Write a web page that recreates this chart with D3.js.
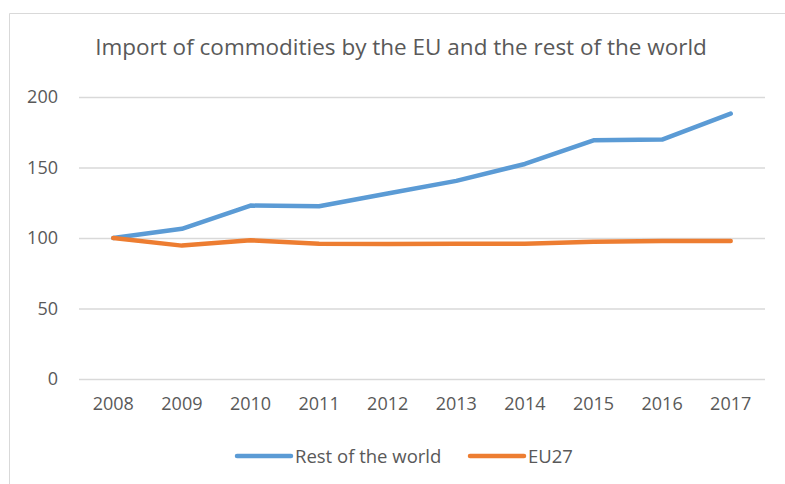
<!DOCTYPE html>
<html>
<head>
<meta charset="utf-8">
<script src="https://cdn.jsdelivr.net/npm/d3@7"></script>
<style>
  body { margin: 0; background: #fff; }
  svg text { font-family: "Open Sans", Lato, sans-serif; fill: #595959; }
</style>
</head>
<body>
<div class="lineChart"></div>
<script>
const years = ["2008", "2009", "2010", "2011", "2012", "2013", "2014", "2015", "2016", "2017"];
const restOfWorld = [100, 106.5, 123, 122.5, 131.5, 140.5, 152.5, 169.3, 169.8, 188.2];
const eu27 = [100, 94.6, 98.4, 96, 95.7, 96, 96, 97.4, 97.9, 97.9];
const yTicks = [0, 50, 100, 150, 200];
const seriesNames = ["Rest of the world", "EU27"];
const seriesColors = ["#5B9BD5", "#ED7D31"];

const width = 785, height = 484;
const margin = {top: 97, right: 20, bottom: 105, left: 79};
const innerW = width - margin.left - margin.right;
const innerH = height - margin.top - margin.bottom;

const svg = d3.select(".lineChart")
  .append("svg")
  .attr("width", width)
  .attr("height", height);

// chart area frame (only top and left edges visible)
svg.append("path")
  .attr("d", "M9.5," + height + "V13.5H" + width)
  .attr("fill", "none")
  .attr("stroke", "#d9d9d9")
  .attr("stroke-width", 1);

svg.append("text")
  .attr("x", 401)
  .attr("y", 55)
  .attr("text-anchor", "middle")
  .style("font-size", "22.5px")
  .text("Import of commodities by the EU and the rest of the world");

const g = svg.append("g")
  .attr("transform", "translate(" + margin.left + "," + margin.top + ")");

const x = d3.scaleBand()
  .domain(years)
  .range([0, innerW]);

const y = d3.scaleLinear()
  .domain([0, 200])
  .range([innerH, 0]);

// gridlines + y labels
const yAxis = g.append("g")
  .call(d3.axisLeft(y).tickValues(yTicks).tickSize(-innerW).tickPadding(21));
yAxis.select(".domain").remove();
yAxis.selectAll(".tick line").attr("stroke", "#d9d9d9").attr("stroke-width", 1.3);
yAxis.selectAll(".tick text").style("font-size", "18px").attr("fill", "#595959");

const xAxis = g.append("g")
  .attr("transform", "translate(0," + innerH + ")")
  .call(d3.axisBottom(x).tickSize(0).tickPadding(18.5));
xAxis.select(".domain").remove();
xAxis.selectAll(".tick text").style("font-size", "18px").attr("fill", "#595959");

const line = d3.line()
  .x((d, i) => x(years[i]) + x.bandwidth() / 2)
  .y(d => y(d));

[restOfWorld, eu27].forEach((vals, i) => {
  g.append("path")
    .datum(vals)
    .attr("fill", "none")
    .attr("stroke", seriesColors[i])
    .attr("stroke-width", 4.5)
    .attr("stroke-linecap", "round")
    .attr("stroke-linejoin", "round")
    .attr("d", line);
});

// legend
const legendX = [237, 470];
const legend = svg.append("g").attr("transform", "translate(0,456)");
seriesNames.forEach((name, i) => {
  legend.append("line")
    .attr("x1", legendX[i]).attr("x2", legendX[i] + 54)
    .attr("y1", 0).attr("y2", 0)
    .attr("stroke", seriesColors[i])
    .attr("stroke-width", 4.5)
    .attr("stroke-linecap", "round");
  legend.append("text")
    .attr("x", legendX[i] + 58)
    .attr("y", 6.5)
    .style("font-size", "18.5px")
    .text(name);
});
</script>
</body>
</html>
